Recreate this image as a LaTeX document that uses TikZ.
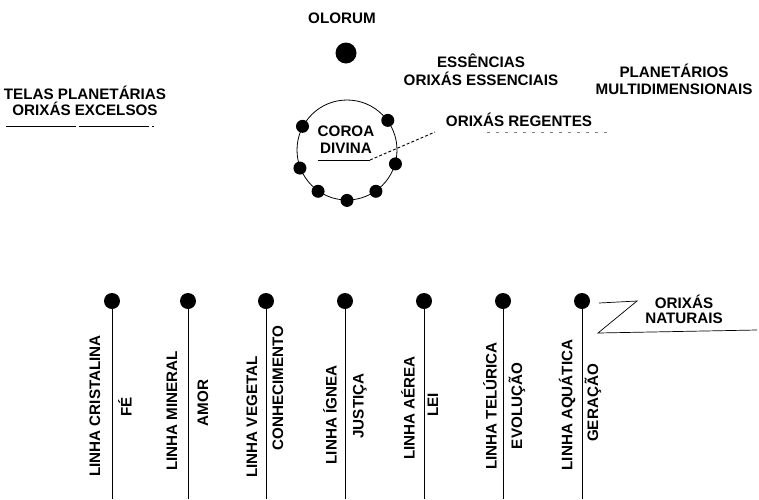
\documentclass[tikz,border=0pt]{standalone}
\usepackage{fontspec}
\setmainfont{Liberation Sans}
\begin{document}
\begin{tikzpicture}[x=1pt,y=-1pt,line width=0.9pt]
\tikzstyle{dot}=[circle, fill=black, inner sep=0pt, minimum size=16pt]
\tikzstyle{bead}=[circle, fill=black, inner sep=0pt, minimum size=13pt]
\tikzstyle{caption}=[font=\bfseries\fontsize{15.2}{17}\selectfont, align=center, inner sep=0pt]
\tikzstyle{linha}=[caption, rotate=90]

\useasboundingbox (0,0) rectangle (759,499);

\node[caption] (olorum) at (342,18) {OLORUM};
\node[dot, minimum size=21pt] (O) at (346,53) {};

\node[draw, circle, inner sep=0pt, minimum size=100pt, line width=0.8pt] (K) at (347,150) {};
\node[bead] (C1) at (K.152) {};
\node[bead] (C2) at (K.36) {};
\node[bead] (C3) at (K.-16) {};
\node[bead] (C4) at (K.201) {};
\node[bead] (C5) at (K.235) {};
\node[bead] (C6) at (K.270) {};
\node[bead] (C7) at (K.305) {};
\node[caption] (coroa) at (346,139.5) {COROA\\DIVINA};

\node[caption] (regentes) at (519,120) {ORIXÁS REGENTES};
\coordinate (U1) at (318,160);
\coordinate (U2) at (370,160);
\coordinate (R1) at (435,132);
\coordinate (R2) at (487,132);
\coordinate (R3) at (610,132);
\draw (U1) -- (U2);
\draw[densely dashed] (U2) -- (R1);
\draw[loosely dashed, gray, line width=0.5pt] (R2) -- (R3);

\node[caption] (essencias) at (481,70) {ESSÊNCIAS\\[1pt]ORIXÁS ESSENCIAIS};
\node[caption] (planetarios) at (674,79.5) {PLANETÁRIOS\\MULTIDIMENSIONAIS};
\node[caption] (telas) at (85,101) {TELAS PLANETÁRIAS\\[-1pt]ORIXÁS EXCELSOS};
\coordinate (T1) at (6,126);
\coordinate (T2) at (154,126);
\draw[dash pattern=on 70pt off 3pt, line width=0.7pt] (T1) -- (T2);

\node[dot] (L1) at (112,301) {};
\node[dot] (L2) at (188,301) {};
\node[dot] (L3) at (266,301) {};
\node[dot] (L4) at (345,301) {};
\node[dot] (L5) at (424,301) {};
\node[dot] (L6) at (503,301) {};
\node[dot] (L7) at (582,301) {};
\coordinate (E1) at (112,499);
\coordinate (E2) at (188,499);
\coordinate (E3) at (266,499);
\coordinate (E4) at (345,499);
\coordinate (E5) at (424,499);
\coordinate (E6) at (503,499);
\coordinate (E7) at (582,499);
\draw (L1) -- (E1);
\draw (L2) -- (E2);
\draw (L3) -- (E3);
\draw (L4) -- (E4);
\draw (L5) -- (E5);
\draw (L6) -- (E6);
\draw (L7) -- (E7);

\node[linha] (cristalina) at (95,406) {LINHA CRISTALINA};
\node[linha] (fe) at (125,407) {FÉ};
\node[linha] (mineral) at (172,411) {LINHA MINERAL};
\node[linha] (amor) at (203,403) {AMOR};
\node[linha] (vegetal) at (252,417) {LINHA VEGETAL};
\node[linha] (conhecimento) at (278,388) {CONHECIMENTO};
\node[linha] (ignea) at (330,415) {LINHA ÍGNEA};
\node[linha] (justica) at (360,406) {JUSTIÇA};
\node[linha] (aerea) at (408,408) {LINHA AÉREA};
\node[linha] (lei) at (433,405) {LEI};
\node[linha] (telurica) at (490,406) {LINHA TELÚRICA};
\node[linha] (evolucao) at (517,406) {EVOLUÇÃO};
\node[linha] (aquatica) at (567,405) {LINHA AQUÁTICA};
\node[linha] (geracao) at (593,403) {GERAÇÃO};

\node[caption] (naturais) at (684,309) {ORIXÁS\\[-2pt]NATURAIS};
\coordinate (Z1) at (599,303);
\coordinate (Z2) at (637,301);
\coordinate (Z3) at (598,333);
\coordinate (Z4) at (757,330);
\draw[line width=0.7pt] (Z1) -- (Z2) -- (Z3) -- (Z4);

\end{tikzpicture}
\end{document}
